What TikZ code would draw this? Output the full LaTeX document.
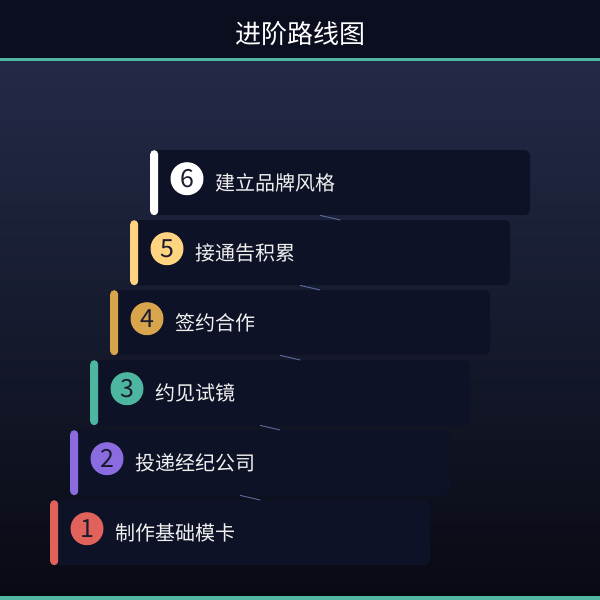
\documentclass[tikz,border=0pt]{standalone}
\usepackage{fontspec}
\setmainfont{Noto Sans CJK SC}
\usetikzlibrary{calc}
\definecolor{titlebg}{HTML}{0B0E1E}
\definecolor{bgtop}{HTML}{222A47}
\definecolor{bgbot}{HTML}{080A13}
\definecolor{cardfill}{HTML}{0E1226}
\definecolor{accent}{HTML}{52B7A2}
\definecolor{linkcol}{HTML}{56679A}
\definecolor{numtext}{HTML}{1A1B2E}
\definecolor{colone}{HTML}{E0625A}
\definecolor{coltwo}{HTML}{8A6BE0}
\definecolor{colthree}{HTML}{4DB6A0}
\definecolor{colfour}{HTML}{D9A54C}
\definecolor{colfive}{HTML}{FFD480}
\definecolor{colsix}{HTML}{FFFFFF}
\begin{document}
\begin{tikzpicture}[x=1pt,y=-1pt,
	card/.style={fill=cardfill, rounded corners=6pt, minimum width=380pt, minimum height=65pt, inner sep=0pt, anchor=north west},
	bar/.style={rounded corners=4pt, minimum width=8pt, minimum height=65pt, inner sep=0pt, anchor=north west},
	num/.style={circle, minimum size=33pt, inner sep=0pt, text=numtext, font=\fontsize{25}{25}\selectfont},
	label/.style={anchor=west, inner sep=0pt, text=white!94!black, font=\fontsize{20}{24}\selectfont},
	link/.style={draw=linkcol, line width=1pt}]
	\useasboundingbox (0,0) rectangle (600,600);

	% фон и заголовок
	\fill [top color=bgtop, bottom color=bgbot] (0,61) rectangle (600,596);
	\fill [titlebg] (0,0) rectangle (600,58);
	\fill [accent] (0,58) rectangle (600,61);
	\fill [accent] (0,596) rectangle (600,600);
	\node [text=white, font=\fontsize{26}{30}\selectfont] (title) at (300,34) {进阶路线图};

	% шаг 1
	\node [card] (c1) at (50,500) {};
	\node [bar, fill=colone] (b1) at (c1.north west) {};
	\node [num, fill=colone] (n1) at ($(c1.west)+(37,-4)$) {1};
	\node [label] (t1) at ($(c1.west)+(65,0)$) {制作基础模卡};

	% шаг 2
	\node [card] (c2) at (70,430) {};
	\node [bar, fill=coltwo] (b2) at (c2.north west) {};
	\node [num, fill=coltwo] (n2) at ($(c2.west)+(37,-4)$) {2};
	\node [label] (t2) at ($(c2.west)+(65,0)$) {投递经纪公司};

	% шаг 3
	\node [card] (c3) at (90,360) {};
	\node [bar, fill=colthree] (b3) at (c3.north west) {};
	\node [num, fill=colthree] (n3) at ($(c3.west)+(37,-4)$) {3};
	\node [label] (t3) at ($(c3.west)+(65,0)$) {约见试镜};

	% шаг 4
	\node [card] (c4) at (110,290) {};
	\node [bar, fill=colfour] (b4) at (c4.north west) {};
	\node [num, fill=colfour] (n4) at ($(c4.west)+(37,-4)$) {4};
	\node [label] (t4) at ($(c4.west)+(65,0)$) {签约合作};

	% шаг 5
	\node [card] (c5) at (130,220) {};
	\node [bar, fill=colfive] (b5) at (c5.north west) {};
	\node [num, fill=colfive] (n5) at ($(c5.west)+(37,-4)$) {5};
	\node [label] (t5) at ($(c5.west)+(65,0)$) {接通告积累};

	% шаг 6
	\node [card] (c6) at (150,150) {};
	\node [bar, fill=colsix] (b6) at (c6.north west) {};
	\node [num, fill=colsix] (n6) at ($(c6.west)+(37,-4)$) {6};
	\node [label] (t6) at ($(c6.west)+(65,0)$) {建立品牌风格};

	% связи между шагами
	\draw [link] (c2.south -| c1.north) -- (c1.north -| c2.south);
	\draw [link] (c3.south -| c2.north) -- (c2.north -| c3.south);
	\draw [link] (c4.south -| c3.north) -- (c3.north -| c4.south);
	\draw [link] (c5.south -| c4.north) -- (c4.north -| c5.south);
	\draw [link] (c6.south -| c5.north) -- (c5.north -| c6.south);
\end{tikzpicture}
\end{document}
